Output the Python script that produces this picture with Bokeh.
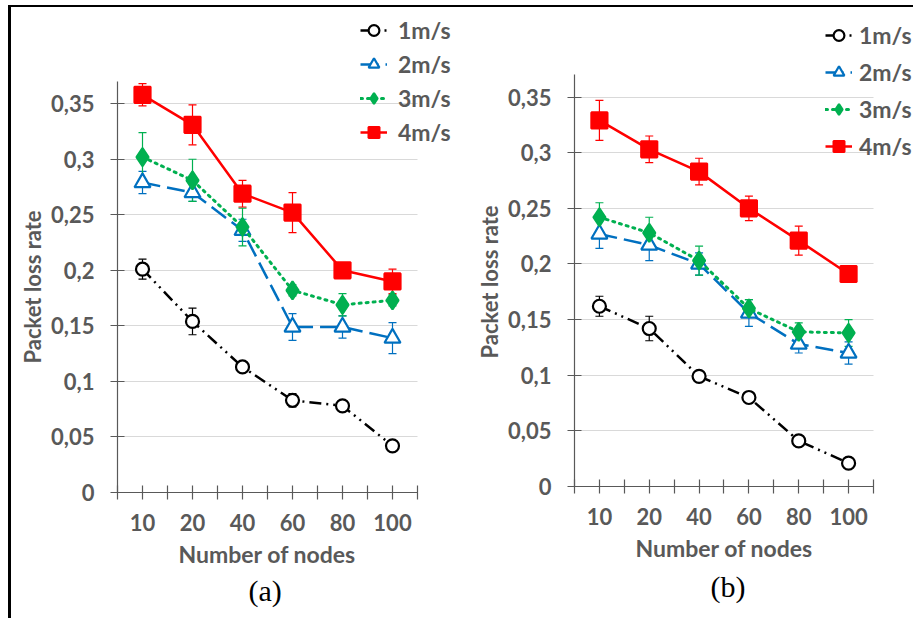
from bokeh.plotting import figure
from bokeh.models import (Range1d, FixedTicker, ColumnDataSource, Whisker, TeeHead,
                          Legend, LegendItem, Title)
from bokeh.layouts import row
from bokeh.embed import file_html
from bokeh.resources import INLINE

# ---------------- data ----------------
nodes = ["10", "20", "40", "60", "80", "100"]
series_names = ["1m/s", "2m/s", "3m/s", "4m/s"]

a_1ms = [0.201, 0.154, 0.113, 0.083, 0.078, 0.042]
a_1ms_err = [0.009, 0.012, 0.004, 0.006, 0.003, 0.003]
a_2ms = [0.279, 0.270, 0.236, 0.149, 0.149, 0.139]
a_2ms_err = [0.010, 0.008, 0.010, 0.012, 0.010, 0.014]
a_3ms = [0.302, 0.281, 0.239, 0.182, 0.169, 0.173]
a_3ms_err = [0.022, 0.019, 0.017, 0.005, 0.010, 0.005]
a_4ms = [0.358, 0.331, 0.269, 0.252, 0.200, 0.190]
a_4ms_err = [0.010, 0.018, 0.012, 0.018, 0.006, 0.011]

b_1ms = [0.162, 0.142, 0.099, 0.080, 0.041, 0.021]
b_1ms_err = [0.009, 0.011, 0.003, 0.005, 0.003, 0.003]
b_2ms = [0.227, 0.217, 0.200, 0.156, 0.128, 0.120]
b_2ms_err = [0.013, 0.014, 0.010, 0.012, 0.008, 0.010]
b_3ms = [0.242, 0.228, 0.203, 0.160, 0.139, 0.138]
b_3ms_err = [0.013, 0.014, 0.013, 0.008, 0.008, 0.012]
b_4ms = [0.329, 0.303, 0.283, 0.250, 0.221, 0.191]
b_4ms_err = [0.018, 0.012, 0.012, 0.011, 0.013, 0.007]

ytick_vals = [0, 0.05, 0.1, 0.15, 0.2, 0.25, 0.3, 0.35]
ytick_labels = ["0", "0,05", "0,1", "0,15", "0,2", "0,25", "0,3", "0,35"]
y_axis_max = 0.37

# ---------------- styles ----------------
GRAY = "#595959"
FONT = "Lato"
styles = [
    dict(color="black", dash="12 5 2 5 2 5", marker="circle", size=13, fill="white", lw=2.5),
    dict(color="#0070C0", dash="18 7", marker="triangle", size=16, fill="white", lw=2.5),
    dict(color="#00B050", dash="2 5", marker="diamond", size=18, fill="#00B050", lw=3),
    dict(color="#FF0000", dash="solid", marker="square", size=16, fill="#FF0000", lw=2.5),
]


def make_panel(values, errors, caption, width, fl, fr, x_end, y_end, leg_loc,
               leg_spacing, leg_standoff, ylab_offset, cap_offset, cap_standoff,
               transparent=False):
    n = len(nodes)
    p = figure(width=width, height=611, output_backend="svg", toolbar_location=None,
               x_range=Range1d(0, x_end), y_range=Range1d(0, y_end),
               min_border_left=fl, min_border_right=fr, min_border_top=3,
               min_border_bottom=126)
    p.outline_line_color = None
    if transparent:
        p.background_fill_color = None
        p.border_fill_color = None
    else:
        p.background_fill_color = "white"
        p.border_fill_color = "white"

    xs = [i + 0.5 for i in range(n)]
    renderers = []
    for vals, errs, st in zip(values, errors, styles):
        src = ColumnDataSource(dict(x=xs, y=vals,
                                    lo=[v - e for v, e in zip(vals, errs)],
                                    hi=[v + e for v, e in zip(vals, errs)]))
        w = Whisker(base="x", upper="hi", lower="lo", source=src,
                    line_color=st["color"], line_width=1.2,
                    upper_head=TeeHead(size=8, line_color=st["color"], line_width=1.2),
                    lower_head=TeeHead(size=8, line_color=st["color"], line_width=1.2))
        p.add_layout(w)
        ln = p.line("x", "y", source=src, line_color=st["color"], line_width=st["lw"],
                    line_dash=st["dash"],
                    line_cap="round" if st["marker"] == "diamond" else "butt")
        sc = p.scatter("x", "y", source=src, marker=st["marker"], size=st["size"],
                       line_color=st["color"], fill_color=st["fill"], line_width=2.2)
        renderers.append((ln, sc))

    # axes
    xt = [i * 0.5 for i in range(2 * n + 1)]
    p.xaxis.ticker = FixedTicker(ticks=xt)
    overrides = {t: "" for t in xt}
    for i, lab in enumerate(nodes):
        overrides[i + 0.5] = lab
    p.xaxis.major_label_overrides = overrides
    p.xaxis.bounds = (0, n)
    p.yaxis.ticker = FixedTicker(ticks=ytick_vals)
    p.yaxis.major_label_overrides = dict(zip(ytick_vals, ytick_labels))
    p.yaxis.bounds = (0, y_axis_max)

    for ax in (p.xaxis[0], p.yaxis[0]):
        ax.axis_line_color = GRAY
        ax.axis_line_width = 1.2
        ax.major_tick_line_color = GRAY
        ax.major_tick_line_width = 1.2
        ax.major_tick_in = 7
        ax.major_tick_out = 7
        ax.minor_tick_line_color = None
        ax.major_label_text_font = FONT
        ax.major_label_text_font_style = "bold"
        ax.major_label_text_font_size = "22px"
        ax.major_label_text_color = GRAY
    p.xaxis.major_label_standoff = 14
    p.yaxis.major_label_standoff = 16

    # axis titles and caption, positioned from the frame edges
    ylab = Title(text="Packet loss rate", align="left", offset=ylab_offset,
                 text_font=FONT, text_font_style="bold", text_font_size="22px",
                 text_color=GRAY, standoff=5)
    p.add_layout(ylab, "left")
    xlab = Title(text="Number of nodes", align="left", offset=61,
                 text_font=FONT, text_font_style="bold", text_font_size="23px",
                 text_color=GRAY, standoff=8)
    p.add_layout(xlab, "below")
    cap = Title(text=caption, align="left", offset=cap_offset, text_font="Liberation Serif",
                text_font_size="30px", text_font_style="normal", text_color="black",
                standoff=cap_standoff)
    p.add_layout(cap, "below")

    p.xgrid.grid_line_color = None
    g = p.ygrid[0]
    g.ticker = FixedTicker(ticks=ytick_vals[1:])
    if "cross_bounds" in g.properties():
        g.cross_bounds = (0, n)
        g.grid_line_color = "#D9D9D9"
        g.grid_line_width = 1.2
    else:
        g.grid_line_color = None
        gy = ytick_vals[1:]
        p.segment(x0=[0] * len(gy), x1=[n] * len(gy), y0=gy, y1=gy,
                  line_color="#D9D9D9", line_width=1.2, level="underlay")

    items = [LegendItem(label=nm, renderers=list(r)) for nm, r in zip(series_names, renderers)]
    leg = Legend(items=items, location=leg_loc, padding=0, margin=0, spacing=leg_spacing,
                 glyph_width=27, glyph_height=32, label_height=32, label_standoff=leg_standoff,
                 background_fill_alpha=0, border_line_color=None,
                 label_text_font=FONT, label_text_font_style="bold",
                 label_text_font_size="23px", label_text_color=GRAY)
    p.add_layout(leg)
    return p


pa = make_panel([a_1ms, a_2ms, a_3ms, a_4ms], [a_1ms_err, a_2ms_err, a_3ms_err, a_4ms_err],
                "(a)", 447, 106, 3, 6.76, 0.4339, (243, 344), 2, 11, 129, 131, 0)
pb = make_panel([b_1ms, b_2ms, b_3ms, b_4ms], [b_1ms_err, b_2ms_err, b_3ms_err, b_4ms_err],
                "(b)", 455, 116, 0, 6.803, 0.4332, (251, 324), 5, 7, 128, 136, 4,
                transparent=True)
pb.styles = {"transform": "translateY(-6px)"}

layout = row(pa, pb, styles={"margin-left": "8px", "margin-top": "5px",
                             "border-left": "3px solid black", "border-top": "2px solid black"})
open("out.html", "w").write(file_html(layout, INLINE))
